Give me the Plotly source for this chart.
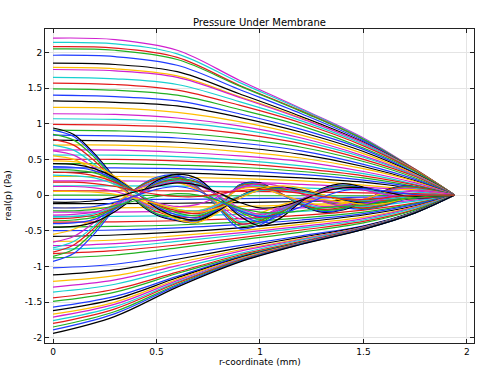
import plotly.graph_objects as go

# radial sample positions (mm)
r_a = [0, 0.3, 0.6, 0.9, 1.2, 1.5, 1.75, 1.94]
r_b = [0, 0.1, 0.2, 0.3, 0.4, 0.5, 0.6, 0.7, 0.8, 0.9, 1.0,
       1.1, 1.2, 1.3, 1.4, 1.5, 1.6, 1.7, 1.8, 1.94]

# smooth low-frequency responses, positive side (Pa)
smooth_upper = [
    [2.20, 2.18, 2.03, 1.61, 1.21, 0.80, 0.36, 0],
    [2.14, 2.12, 1.98, 1.58, 1.20, 0.79, 0.36, 0],
    [2.08, 2.06, 1.93, 1.54, 1.18, 0.78, 0.36, 0],
    [2.05, 2.03, 1.90, 1.53, 1.17, 0.78, 0.35, 0],
    [1.96, 1.94, 1.82, 1.48, 1.14, 0.76, 0.35, 0],
    [1.85, 1.83, 1.73, 1.42, 1.10, 0.74, 0.35, 0],
    [1.79, 1.77, 1.67, 1.38, 1.08, 0.73, 0.35, 0],
    [1.76, 1.74, 1.65, 1.37, 1.07, 0.73, 0.34, 0],
    [1.65, 1.63, 1.55, 1.31, 1.04, 0.71, 0.34, 0],
    [1.57, 1.55, 1.47, 1.26, 1.01, 0.69, 0.34, 0],
    [1.49, 1.47, 1.40, 1.20, 0.97, 0.66, 0.33, 0],
    [1.40, 1.38, 1.32, 1.14, 0.92, 0.64, 0.31, 0],
    [1.32, 1.30, 1.25, 1.09, 0.88, 0.61, 0.30, 0],
    [1.23, 1.22, 1.16, 1.03, 0.84, 0.58, 0.29, 0],
    [1.14, 1.13, 1.08, 0.97, 0.80, 0.55, 0.28, 0],
    [1.07, 1.06, 1.02, 0.92, 0.76, 0.53, 0.27, 0],
    [0.99, 0.98, 0.95, 0.86, 0.72, 0.50, 0.26, 0],
    [0.91, 0.90, 0.87, 0.79, 0.67, 0.47, 0.24, 0],
    [0.84, 0.83, 0.80, 0.73, 0.62, 0.43, 0.22, 0],
    [0.77, 0.76, 0.74, 0.67, 0.57, 0.40, 0.20, 0],
    [0.70, 0.70, 0.67, 0.61, 0.52, 0.37, 0.19, 0],
    [0.63, 0.63, 0.60, 0.55, 0.47, 0.33, 0.17, 0],
    [0.56, 0.56, 0.54, 0.49, 0.41, 0.30, 0.15, 0],
    [0.50, 0.50, 0.48, 0.44, 0.37, 0.27, 0.14, 0],
    [0.44, 0.44, 0.42, 0.39, 0.33, 0.24, 0.12, 0],
    [0.38, 0.38, 0.37, 0.34, 0.29, 0.21, 0.11, 0],
    [0.32, 0.32, 0.31, 0.28, 0.24, 0.18, 0.09, 0],
    [0.26, 0.26, 0.25, 0.23, 0.20, 0.14, 0.07, 0],
    [0.20, 0.20, 0.19, 0.18, 0.15, 0.11, 0.06, 0],
    [0.13, 0.13, 0.125, 0.115, 0.10, 0.07, 0.04, 0],
    [0.06, 0.06, 0.06, 0.05, 0.045, 0.03, 0.02, 0],
    [0.00, 0.00, -0.01, -0.01, -0.01, -0.01, 0.00, 0],
]

# smooth low-frequency responses, negative side (Pa)
smooth_lower = [
    [-0.06, -0.06, -0.06, -0.05, -0.045, -0.03, -0.02, 0],
    [-0.12, -0.12, -0.115, -0.105, -0.09, -0.065, -0.035, 0],
    [-0.18, -0.18, -0.17, -0.16, -0.135, -0.10, -0.05, 0],
    [-0.24, -0.24, -0.23, -0.21, -0.18, -0.13, -0.07, 0],
    [-0.30, -0.30, -0.29, -0.27, -0.23, -0.165, -0.085, 0],
    [-0.38, -0.375, -0.36, -0.33, -0.285, -0.21, -0.11, 0],
    [-0.45, -0.44, -0.42, -0.38, -0.32, -0.24, -0.12, 0],
    [-0.50, -0.49, -0.46, -0.41, -0.35, -0.26, -0.13, 0],
    [-0.58, -0.56, -0.52, -0.46, -0.38, -0.28, -0.15, 0],
    [-0.65, -0.63, -0.57, -0.50, -0.41, -0.31, -0.16, 0],
    [-0.71, -0.68, -0.61, -0.53, -0.44, -0.33, -0.17, 0],
    [-0.76, -0.73, -0.65, -0.56, -0.46, -0.35, -0.18, 0],
    [-0.82, -0.78, -0.70, -0.60, -0.49, -0.37, -0.20, 0],
    [-0.88, -0.84, -0.74, -0.63, -0.52, -0.39, -0.21, 0],
    [-1.02, -0.97, -0.84, -0.71, -0.57, -0.43, -0.23, 0],
    [-1.12, -1.05, -0.90, -0.74, -0.59, -0.44, -0.23, 0],
    [-1.21, -1.13, -0.95, -0.77, -0.61, -0.45, -0.24, 0],
    [-1.29, -1.19, -0.99, -0.79, -0.62, -0.45, -0.24, 0],
    [-1.36, -1.25, -1.03, -0.82, -0.63, -0.455, -0.24, 0],
    [-1.44, -1.32, -1.08, -0.84, -0.65, -0.46, -0.245, 0],
    [-1.49, -1.36, -1.10, -0.86, -0.66, -0.465, -0.245, 0],
    [-1.57, -1.42, -1.14, -0.87, -0.665, -0.467, -0.246, 0],
    [-1.62, -1.46, -1.16, -0.88, -0.668, -0.469, -0.246, 0],
    [-1.67, -1.50, -1.18, -0.89, -0.672, -0.471, -0.247, 0],
    [-1.71, -1.53, -1.20, -0.90, -0.674, -0.472, -0.247, 0],
    [-1.76, -1.565, -1.22, -0.907, -0.678, -0.474, -0.248, 0],
    [-1.80, -1.595, -1.233, -0.915, -0.68, -0.475, -0.248, 0],
    [-1.85, -1.632, -1.253, -0.924, -0.684, -0.477, -0.249, 0],
    [-1.89, -1.662, -1.269, -0.931, -0.687, -0.478, -0.249, 0],
    [-1.94, -1.70, -1.29, -0.94, -0.69, -0.48, -0.25, 0],
]

# higher-frequency oscillating responses (Pa) at r_b
wave_g1 = [
    [-0.93, -0.82, -0.54, -0.19, 0.09, 0.25, 0.28, 0.11, -0.19, -0.47, -0.42, -0.24, -0.11, -0.09, -0.17, -0.20, -0.15, -0.06, -0.02, 0],
    [-0.86, -0.76, -0.50, -0.17, 0.09, 0.23, 0.26, 0.10, -0.17, -0.43, -0.39, -0.22, -0.10, -0.09, -0.15, -0.19, -0.14, -0.05, -0.02, 0],
    [-0.80, -0.70, -0.46, -0.16, 0.08, 0.22, 0.24, 0.10, -0.16, -0.40, -0.36, -0.21, -0.10, -0.08, -0.14, -0.18, -0.13, -0.05, -0.02, 0],
    [-0.74, -0.65, -0.43, -0.15, 0.07, 0.20, 0.22, 0.09, -0.15, -0.37, -0.33, -0.19, -0.09, -0.07, -0.13, -0.16, -0.12, -0.04, -0.01, 0],
    [-0.66, -0.58, -0.38, -0.13, 0.07, 0.18, 0.20, 0.08, -0.13, -0.33, -0.30, -0.17, -0.08, -0.07, -0.12, -0.15, -0.11, -0.04, -0.01, 0],
    [-0.55, -0.48, -0.32, -0.11, 0.06, 0.15, 0.17, 0.07, -0.11, -0.28, -0.25, -0.14, -0.07, -0.06, -0.10, -0.12, -0.09, -0.03, -0.01, 0],
]
wave_g2 = [
    [0.94, 0.85, 0.58, 0.24, -0.08, -0.28, -0.36, -0.38, -0.19, 0.14, 0.17, 0.02, -0.14, -0.24, -0.21, -0.09, 0.06, 0.13, 0.09, 0],
    [0.91, 0.82, 0.56, 0.23, -0.07, -0.27, -0.35, -0.36, -0.18, 0.14, 0.16, 0.02, -0.14, -0.23, -0.20, -0.09, 0.05, 0.13, 0.09, 0],
    [0.85, 0.77, 0.53, 0.21, -0.07, -0.26, -0.32, -0.34, -0.17, 0.13, 0.15, 0.02, -0.13, -0.21, -0.19, -0.09, 0.05, 0.12, 0.09, 0],
    [0.78, 0.70, 0.48, 0.20, -0.06, -0.23, -0.30, -0.31, -0.16, 0.12, 0.14, 0.02, -0.12, -0.20, -0.17, -0.08, 0.05, 0.11, 0.08, 0],
    [0.70, 0.63, 0.43, 0.18, -0.06, -0.21, -0.27, -0.28, -0.14, 0.11, 0.13, 0.01, -0.11, -0.18, -0.15, -0.07, 0.04, 0.10, 0.07, 0],
    [0.62, 0.56, 0.38, 0.16, -0.05, -0.19, -0.24, -0.25, -0.12, 0.09, 0.11, 0.01, -0.09, -0.16, -0.14, -0.06, 0.04, 0.09, 0.06, 0],
    [0.55, 0.50, 0.34, 0.14, -0.04, -0.17, -0.21, -0.22, -0.11, 0.08, 0.10, 0.01, -0.08, -0.14, -0.12, -0.06, 0.03, 0.08, 0.06, 0],
]
wave_g3 = [
    [-0.45, -0.44, -0.38, -0.23, -0.02, 0.20, 0.29, 0.23, -0.02, -0.29, -0.43, -0.32, -0.09, 0.09, 0.16, 0.11, 0.02, -0.05, -0.04, 0],
    [-0.40, -0.39, -0.34, -0.20, -0.02, 0.18, 0.26, 0.20, -0.02, -0.26, -0.38, -0.28, -0.08, 0.08, 0.14, 0.10, 0.02, -0.04, -0.03, 0],
    [-0.36, -0.35, -0.31, -0.18, -0.02, 0.16, 0.23, 0.18, -0.02, -0.23, -0.34, -0.25, -0.07, 0.07, 0.13, 0.09, 0.02, -0.04, -0.03, 0],
    [-0.33, -0.32, -0.28, -0.17, -0.02, 0.15, 0.21, 0.17, -0.02, -0.21, -0.31, -0.23, -0.07, 0.07, 0.12, 0.08, 0.02, -0.03, -0.03, 0],
    [-0.31, -0.30, -0.26, -0.16, -0.02, 0.14, 0.20, 0.16, -0.02, -0.20, -0.29, -0.22, -0.06, 0.06, 0.11, 0.08, 0.02, -0.03, -0.02, 0],
    [-0.28, -0.27, -0.24, -0.14, -0.01, 0.13, 0.18, 0.14, -0.01, -0.18, -0.27, -0.20, -0.06, 0.06, 0.10, 0.07, 0.01, -0.03, -0.02, 0],
]
wave_g4 = [
    [0.48, 0.47, 0.41, 0.26, 0.05, -0.19, -0.34, -0.38, -0.24, -0.02, 0.10, 0.12, 0.07, 0.00, -0.07, -0.12, -0.11, -0.05, -0.01, 0],
    [0.44, 0.43, 0.37, 0.24, 0.04, -0.18, -0.31, -0.35, -0.22, -0.02, 0.09, 0.11, 0.07, 0.00, -0.07, -0.11, -0.10, -0.04, -0.01, 0],
    [0.40, 0.39, 0.34, 0.22, 0.04, -0.16, -0.28, -0.32, -0.20, -0.02, 0.08, 0.10, 0.06, 0.00, -0.06, -0.10, -0.09, -0.04, -0.01, 0],
    [0.36, 0.35, 0.31, 0.20, 0.04, -0.14, -0.25, -0.29, -0.18, -0.02, 0.07, 0.09, 0.05, 0.00, -0.05, -0.09, -0.08, -0.04, -0.01, 0],
    [0.32, 0.31, 0.27, 0.18, 0.03, -0.13, -0.22, -0.26, -0.16, -0.02, 0.06, 0.08, 0.05, 0.00, -0.05, -0.08, -0.07, -0.03, -0.01, 0],
    [0.28, 0.27, 0.24, 0.15, 0.03, -0.11, -0.20, -0.22, -0.14, -0.01, 0.06, 0.07, 0.04, 0.00, -0.04, -0.07, -0.06, -0.03, -0.01, 0],
]
wave_g5 = [
    [0.12, 0.12, 0.10, 0.05, -0.03, -0.11, -0.16, -0.13, -0.02, 0.10, 0.16, 0.12, 0.02, -0.09, -0.15, -0.13, -0.05, 0.04, 0.06, 0],
    [0.05, 0.05, 0.04, 0.01, -0.05, -0.12, -0.20, -0.24, -0.18, -0.05, 0.08, 0.13, 0.10, 0.01, -0.08, -0.13, -0.12, -0.05, 0.00, 0],
    [-0.10, -0.10, -0.08, -0.03, 0.05, 0.12, 0.17, 0.14, 0.03, -0.10, -0.18, -0.16, -0.07, 0.04, 0.10, 0.10, 0.05, -0.01, -0.02, 0],
    [-0.18, -0.18, -0.16, -0.10, -0.01, 0.08, 0.12, 0.06, -0.08, -0.22, -0.30, -0.27, -0.16, -0.03, 0.06, 0.09, 0.06, 0.02, 0.00, 0],
    [-0.22, -0.22, -0.20, -0.15, -0.08, -0.02, 0.02, 0.00, -0.08, -0.18, -0.24, -0.25, -0.22, -0.18, -0.16, -0.14, -0.10, -0.05, -0.02, 0],
    [0.18, 0.18, 0.16, 0.12, 0.06, 0.01, -0.02, -0.02, 0.02, 0.06, 0.08, 0.06, 0.02, -0.02, -0.05, -0.06, -0.04, -0.01, 0.00, 0],
]

x_tick_vals = [0, 0.5, 1, 1.5, 2]
x_tick_text = ["0", "0.5", "1", "1.5", "2"]
y_tick_vals = [-2, -1.5, -1, -0.5, 0, 0.5, 1, 1.5, 2]
y_tick_text = ["-2", "-1.5", "-1", "-0.5", "0", "0.5", "1", "1.5", "2"]

# styling
BLUE, GREEN, RED, CYAN = "#1f3cff", "#22b022", "#e41a1a", "#18d0d0"
MAGENTA, YELLOW, BLACK = "#d020d0", "#ffbe00", "#000000"
down_cycle = [MAGENTA, CYAN, RED, GREEN, BLUE, BLACK, YELLOW]
wave_cycle = [BLUE, GREEN, RED, CYAN, MAGENTA, YELLOW, BLACK]

fig = go.Figure()

smooth_all = smooth_upper + smooth_lower
for i, ys in enumerate(smooth_all):
    fig.add_trace(go.Scatter(
        x=r_a, y=ys, mode="lines",
        line=dict(color=down_cycle[i % 7], width=1.2, shape="spline", smoothing=1.0),
        hoverinfo="skip"))

k = 0
for group in (wave_g1, wave_g2, wave_g3, wave_g4, wave_g5):
    for ys in group:
        fig.add_trace(go.Scatter(
            x=r_b, y=ys, mode="lines",
            line=dict(color=wave_cycle[k % 7], width=1.2, shape="spline", smoothing=0.9),
            hoverinfo="skip"))
        k += 1

axis_common = dict(
    showline=True, linecolor="#222222", linewidth=1, mirror="ticks",
    ticks="inside", ticklen=4, tickcolor="#222222",
    showgrid=True, gridcolor="#e4e4e4", gridwidth=1, zeroline=False,
    tickfont=dict(family="DejaVu Sans", size=9, color="black"),
)

fig.update_layout(
    width=479, height=366,
    margin=dict(l=45, r=5, t=29, b=23),
    paper_bgcolor="white", plot_bgcolor="white",
    showlegend=False,
    font=dict(family="DejaVu Sans", size=9, color="black"),
    xaxis=dict(range=[-0.0387, 2.034], tickmode="array",
               tickvals=x_tick_vals, ticktext=x_tick_text, **axis_common),
    yaxis=dict(range=[-2.074, 2.328], tickmode="array",
               tickvals=y_tick_vals, ticktext=y_tick_text, **axis_common),
    annotations=[
        dict(text="Pressure Under Membrane", xref="paper", yref="paper",
             x=0.5, y=1.0, yshift=7, showarrow=False, yanchor="middle",
             font=dict(family="DejaVu Sans", size=10, color="black")),
        dict(text="r-coordinate (mm)", xref="paper", yref="paper",
             x=0.5, y=-0.061, showarrow=False, yanchor="middle",
             font=dict(family="DejaVu Sans", size=9, color="black")),
        dict(text="real(p) (Pa)", xref="paper", yref="paper",
             x=-0.086, y=0.47, showarrow=False, textangle=-90,
             xanchor="center", yanchor="middle",
             font=dict(family="DejaVu Sans", size=9, color="black")),
    ],
)

# remove the default 8px page margin so the 479x366 figure fills the window
fig.write_html("out.html",
               config={"displayModeBar": False},
               post_script="document.body.style.margin='0px';")
